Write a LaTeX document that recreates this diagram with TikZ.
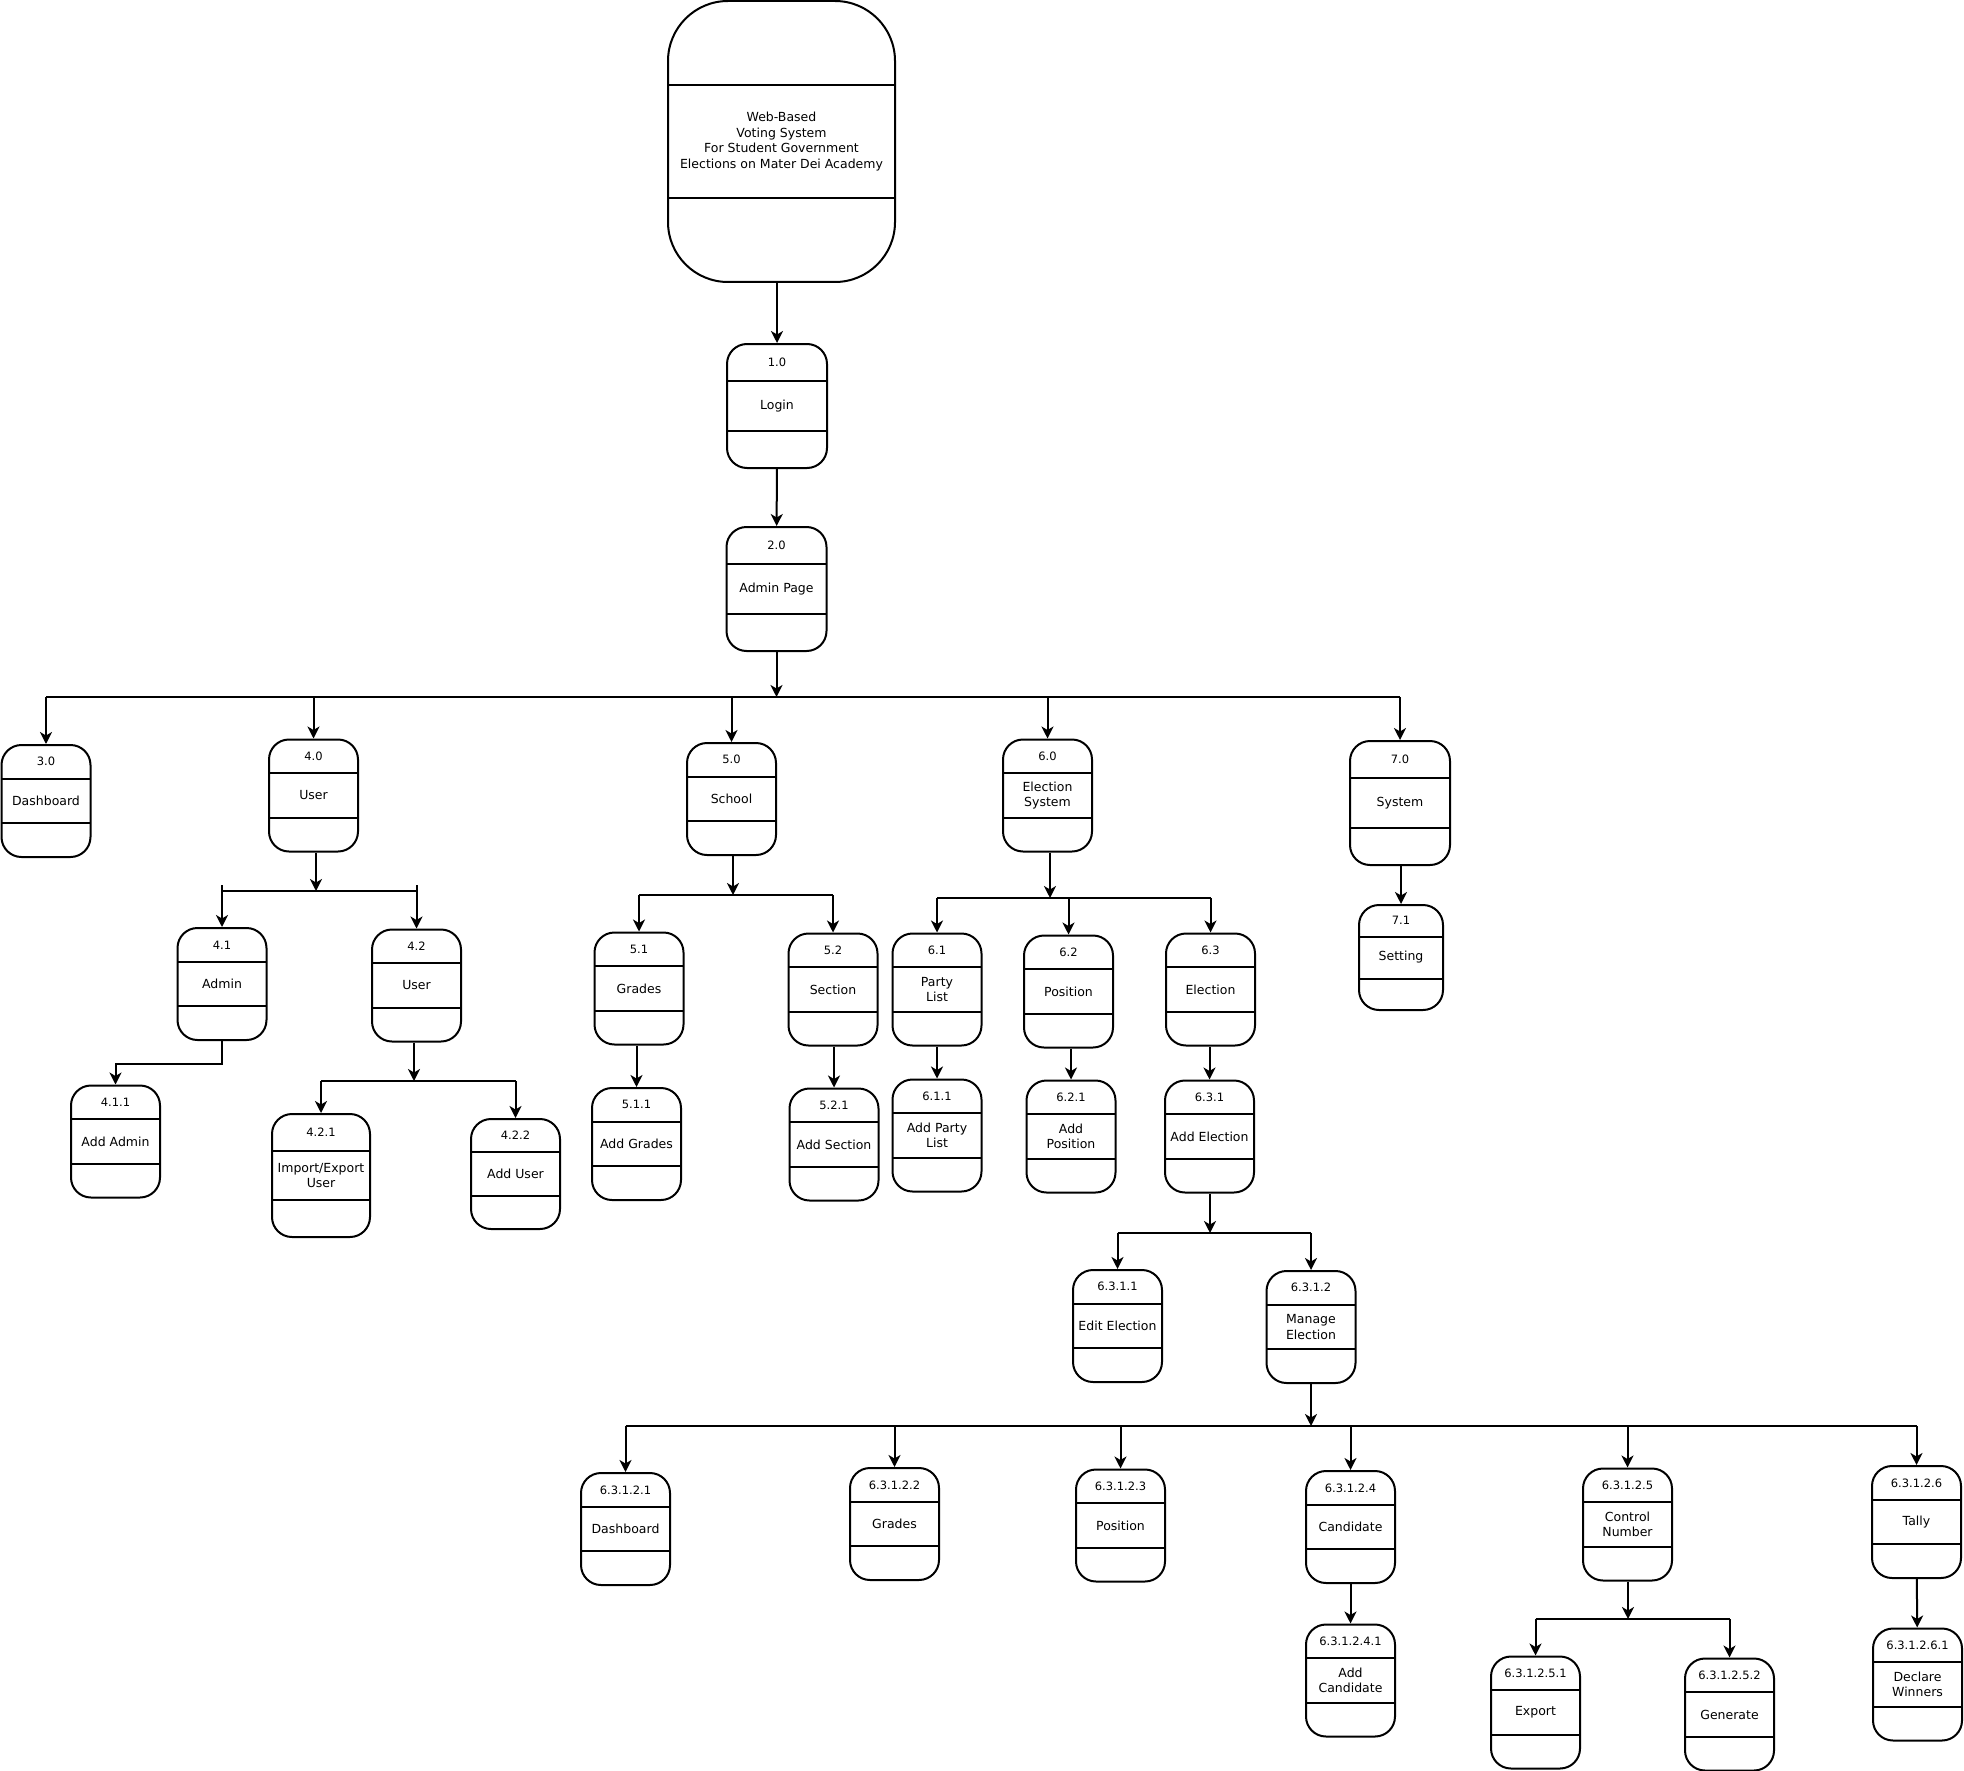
\documentclass[tikz,border=0pt]{standalone}
\usepackage{fontspec}
\setmainfont{DejaVu Sans}
\usetikzlibrary{positioning,calc,arrows.meta}

\begin{document}
\begin{tikzpicture}[x=1pt,y=-1pt,line width=2pt,>={Stealth[length=12pt,width=12pt,inset=3.5pt]},
	proc/.style={draw,rounded corners=20pt,inner sep=0pt,align=center,
		minimum width=89pt,minimum height=112pt,font=\fontsize{12.5}{15.5}\selectfont,
		path picture={
			\draw[-,line width=2pt]
				($(path picture bounding box.north west)!0.3!(path picture bounding box.south west)$) --
				($(path picture bounding box.north east)!0.3!(path picture bounding box.south east)$)
				($(path picture bounding box.north west)!0.7!(path picture bounding box.south west)$) --
				($(path picture bounding box.north east)!0.7!(path picture bounding box.south east)$);
			\node[font=\fontsize{11.5}{14}\selectfont] at ($(path picture bounding box.north)!0.15!(path picture bounding box.south)$) {#1};
		}},
	big/.style={minimum width=100pt,minimum height=124pt}]
	\useasboundingbox (0,0) rectangle (1964,1771);

	\node[proc=,minimum width=227pt,minimum height=281pt,rounded corners=60pt] (main) at (781.5,141.5)
		{Web-Based\\Voting System\\For Student Government\\Elections on Mater Dei Academy};
	\node[proc=1.0,big] (p10) at (777,406) {Login};
	\node[proc=2.0,big] (p20) at (776.5,589) {Admin Page};

	\node[proc=3.0] (p30) at (46,801) {Dashboard};
	\node[proc=4.0] (p40) at (313.5,795.5) {User};
	\node[proc=5.0] (p50) at (731.5,799) {School};
	\node[proc=6.0] (p60) at (1047.5,795.5) {Election\\System};
	\node[proc=7.0,big] (p70) at (1400,803) {System};
	\node[proc=7.1,minimum width=84pt,minimum height=105pt] (p71) at (1401,957.5) {Setting};

	\node[proc=4.1] (p41) at (222,984) {Admin};
	\node[proc=4.2] (p42) at (416.5,985.5) {User};
	\node[proc=4.1.1] (p411) at (115.5,1141.5) {Add Admin};
	\node[proc=4.2.1,minimum width=98pt,minimum height=123pt] (p421) at (321,1175.5) {Import/Export\\User};
	\node[proc=4.2.2,minimum height=110pt] (p422) at (515.5,1174) {Add User};

	\node[proc=5.1] (p51) at (639,988.5) {Grades};
	\node[proc=5.2] (p52) at (833,989.5) {Section};
	\node[proc=5.1.1] (p511) at (636.5,1144) {Add Grades};
	\node[proc=5.2.1] (p521) at (834,1144.5) {Add Section};

	\node[proc=6.1] (p61) at (937,989.5) {Party\\List};
	\node[proc=6.2] (p62) at (1068.5,991.5) {Position};
	\node[proc=6.3] (p63) at (1210.5,989.5) {Election};
	\node[proc=6.1.1] (p611) at (937,1135.5) {Add Party\\List};
	\node[proc=6.2.1] (p621) at (1071,1136.5) {Add\\Position};
	\node[proc=6.3.1] (p631) at (1209.5,1136.5) {Add Election};

	\node[proc=6.3.1.1] (p6311) at (1117.5,1326) {Edit Election};
	\node[proc=6.3.1.2] (p6312) at (1311,1327) {Manage\\Election};

	\node[proc=6.3.1.2.1] (p63121) at (625.5,1529) {Dashboard};
	\node[proc=6.3.1.2.2] (p63122) at (894.5,1524) {Grades};
	\node[proc=6.3.1.2.3] (p63123) at (1120.5,1525.5) {Position};
	\node[proc=6.3.1.2.4] (p63124) at (1350.5,1527) {Candidate};
	\node[proc=6.3.1.2.5] (p63125) at (1627.5,1524.5) {Control\\Number};
	\node[proc=6.3.1.2.6] (p63126) at (1916.5,1522) {Tally};
	\node[proc=6.3.1.2.4.1] (p631241) at (1350.5,1680.5) {Add\\Candidate};
	\node[proc=6.3.1.2.5.1] (p631251) at (1535.5,1712.5) {Export};
	\node[proc=6.3.1.2.5.2] (p631252) at (1729.5,1714.5) {Generate};
	\node[proc=6.3.1.2.6.1] (p631261) at (1917.5,1684.5) {Declare\\Winners};

	% bus points
	\coordinate (b2) at (776.5,697);
	\coordinate (b4) at (316,891);
	\coordinate (b42) at (414,1081);
	\coordinate (b5) at (733,895);
	\coordinate (b6) at (1050,898);
	\coordinate (b631) at (1210,1233);
	\coordinate (b6312) at (1311,1426);
	\coordinate (b63125) at (1628,1619);

	\draw[->] (p10 |- main.south) -- (p10);
	\draw[->] (p10) -- (p20);
	\draw[->] (p20) -- (b2);
	\draw (p30 |- b2) -- (p70 |- b2);
	\foreach \n in {p30,p40,p50,p60,p70}
		\draw[->] (\n |- b2) -- (\n);
	\draw[->] (p71 |- p70.south) -- (p71);

	\draw[->] (b4 |- p40.south) -- (b4);
	\draw (p41 |- b4) -- (p42 |- b4);
	\foreach \n in {p41,p42}
		\draw[->] ($(\n |- b4)+(0,-6)$) -- (\n);
	\draw[->] (p41.south) -- ++(0,23) -| (p411);
	\draw[->] (b42 |- p42.south) -- (b42);
	\draw (p421 |- b42) -- (p422 |- b42);
	\foreach \n in {p421,p422}
		\draw[->] (\n |- b42) -- (\n);

	\draw[->] (b5 |- p50.south) -- (b5);
	\draw (p51 |- b5) -- (p52 |- b5);
	\foreach \n in {p51,p52}
		\draw[->] (\n |- b5) -- (\n);
	\draw[->] (p511 |- p51.south) -- (p511);
	\draw[->] (p521 |- p52.south) -- (p521);

	\draw[->] (b6 |- p60.south) -- (b6);
	\draw (p61 |- b6) -- (p63 |- b6);
	\foreach \n in {p61,p62,p63}
		\draw[->] (\n |- b6) -- (\n);
	\draw[->] (p611 |- p61.south) -- (p611);
	\draw[->] (p621 |- p62.south) -- (p621);
	\draw[->] (p631 |- p63.south) -- (p631);

	\draw[->] (b631 |- p631.south) -- (b631);
	\draw (p6311 |- b631) -- (p6312 |- b631);
	\foreach \n in {p6311,p6312}
		\draw[->] (\n |- b631) -- (\n);

	\draw[->] (b6312 |- p6312.south) -- (b6312);
	\draw (p63121 |- b6312) -- (p63126 |- b6312);
	\foreach \n in {p63121,p63122,p63123,p63124,p63125,p63126}
		\draw[->] (\n |- b6312) -- (\n);
	\draw[->] (p631241 |- p63124.south) -- (p631241);
	\draw[->] (b63125 |- p63125.south) -- (b63125);
	\draw (p631251 |- b63125) -- (p631252 |- b63125);
	\foreach \n in {p631251,p631252}
		\draw[->] (\n |- b63125) -- (\n);
	\draw[->] (p63126) -- (p631261);
\end{tikzpicture}
\end{document}
